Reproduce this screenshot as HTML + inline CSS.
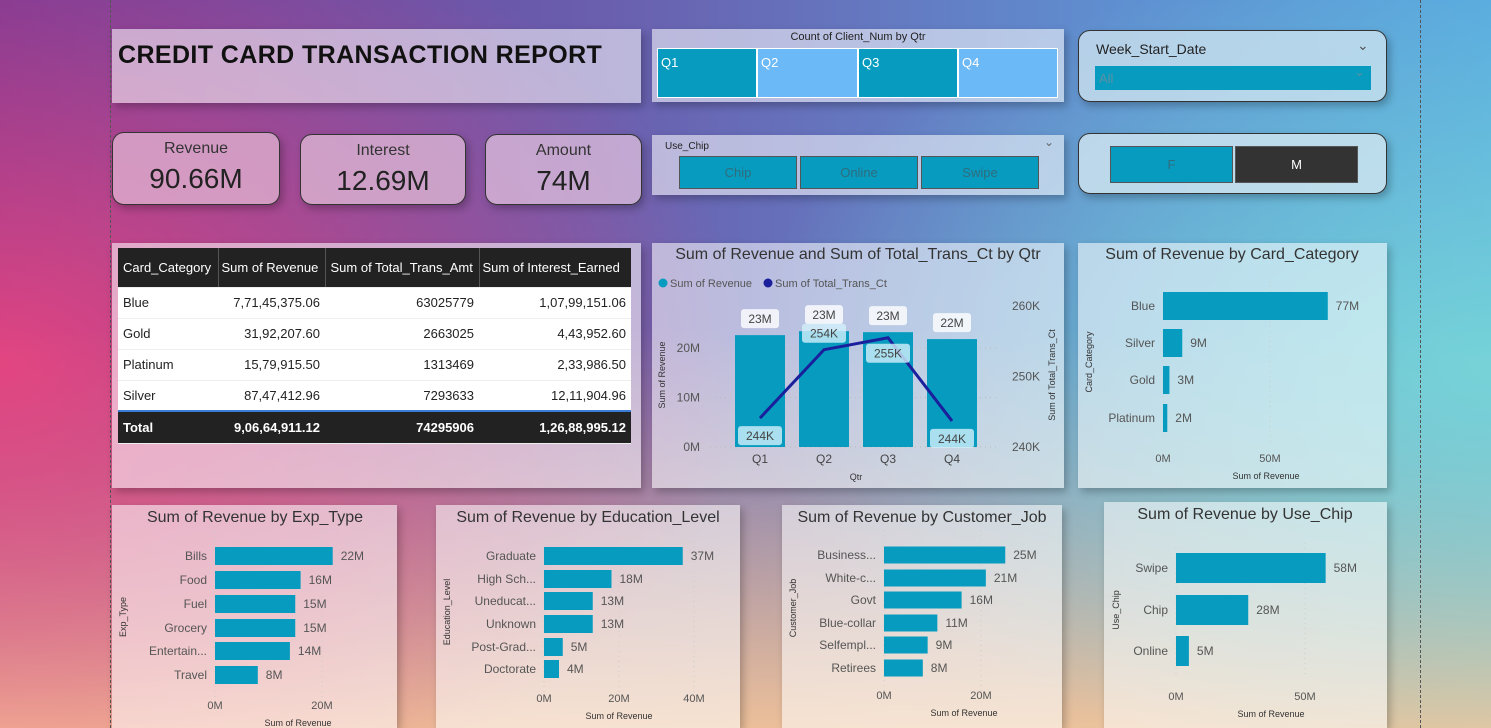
<!DOCTYPE html>
<html><head><meta charset="utf-8">
<style>
*{box-sizing:border-box;margin:0;padding:0}
body{width:1491px;height:728px;overflow:hidden;position:relative;font-family:"Liberation Sans",sans-serif;color:#222;
background:
radial-gradient(ellipse 1000px 650px at 0% 50%, rgba(245,70,125,0.85), rgba(245,70,125,0) 75%),
radial-gradient(ellipse 1000px 550px at 100% 50%, rgba(120,215,215,0.9), rgba(120,215,215,0) 75%),
linear-gradient(to bottom, rgba(0,0,0,0) 45%, rgba(250,200,150,0.9) 100%),
linear-gradient(to right, #6d3a98 0%, #6a5eae 40%, #5f8fd0 75%, #58a8e0 100%);}
.p{position:absolute}
.panel{position:absolute;background:rgba(255,255,255,0.55);box-shadow:3px 4px 8px rgba(0,0,0,0.25)}
.rnd{border:1.5px solid #333;border-radius:12px}
.vline{position:absolute;top:0;height:728px;border-left:1px dashed #555}
.btn{position:absolute;background:#079cbf;border:1px solid #555;display:flex;align-items:center;justify-content:center;font-size:13px;color:#2f6c7e}
.kl{position:absolute;width:100%;text-align:center;font-size:16px;color:#333}
.kv{position:absolute;width:100%;text-align:center;font-size:28px;color:#222}
table{border-collapse:collapse;font-size:13px;table-layout:fixed}
td{padding:0 5px;height:31px;border-bottom:1px solid #eee;white-space:nowrap;overflow:hidden}
svg text{font-family:"Liberation Sans",sans-serif}
</style></head><body>
<div class="vline" style="left:110px"></div>
<div class="vline" style="left:1420px"></div>

<div class="panel" style="left:112px;top:29px;width:529px;height:74px">
<div class="p" style="left:6px;top:12px;font-size:25px;font-weight:bold;color:#111;letter-spacing:0.4px">CREDIT CARD TRANSACTION REPORT</div></div>

<div class="panel" style="left:652px;top:29px;width:412px;height:73px">
<div class="p" style="left:0;top:2px;width:100%;text-align:center;font-size:11px">Count of Client_Num by Qtr</div>
<div class="p" style="left:5px;top:19px;width:401px;height:50px;background:#fff"></div>
<div class="btn" style="left:6px;top:20px;width:98px;height:48px;background:#079cbf;border:none;justify-content:flex-start;padding-left:3px;color:#fff;align-items:flex-start;padding-top:6px">Q1</div>
<div class="btn" style="left:106px;top:20px;width:99px;height:48px;background:#6cb9f7;border:none;justify-content:flex-start;padding-left:3px;color:#fff;align-items:flex-start;padding-top:6px">Q2</div>
<div class="btn" style="left:207px;top:20px;width:98px;height:48px;background:#079cbf;border:none;justify-content:flex-start;padding-left:3px;color:#fff;align-items:flex-start;padding-top:6px">Q3</div>
<div class="btn" style="left:307px;top:20px;width:98px;height:48px;background:#6cb9f7;border:none;justify-content:flex-start;padding-left:3px;color:#fff;align-items:flex-start;padding-top:6px">Q4</div>
</div>

<div class="panel rnd" style="left:1078px;top:30px;width:309px;height:72px;background:rgba(210,230,240,0.75)">
<div class="p" style="left:17px;top:10px;font-size:14px">Week_Start_Date</div>
<div class="p" style="left:278px;top:6px;font-size:14px;color:#555">&#8964;</div>
<div class="p" style="left:16px;top:35px;width:276px;height:24px;background:#079cbf;color:#5a8fa3;font-size:13px;padding:5px 4px">All<span style="position:absolute;right:6px;top:-2px">&#8964;</span></div>
</div>

<div class="panel rnd" style="left:112px;top:132px;width:168px;height:73px;background:rgba(230,190,215,0.7)">
<div class="kl" style="top:7px">Revenue</div><div class="kv" style="top:30px">90.66M</div></div>
<div class="panel rnd" style="left:300px;top:134px;width:166px;height:71px;background:rgba(230,195,220,0.7)">
<div class="kl" style="top:7px">Interest</div><div class="kv" style="top:30px">12.69M</div></div>
<div class="panel rnd" style="left:485px;top:134px;width:157px;height:71px;background:rgba(230,200,225,0.7)">
<div class="kl" style="top:7px">Amount</div><div class="kv" style="top:30px">74M</div></div>

<div class="panel" style="left:652px;top:135px;width:412px;height:60px">
<div class="p" style="left:13px;top:6px;font-size:10px">Use_Chip</div>
<div class="p" style="left:392px;top:0px;font-size:12px;color:#666">&#8964;</div>
<div class="btn" style="left:27px;top:21px;width:118px;height:33px">Chip</div>
<div class="btn" style="left:148px;top:21px;width:118px;height:33px">Online</div>
<div class="btn" style="left:269px;top:21px;width:118px;height:33px">Swipe</div>
</div>

<div class="panel rnd" style="left:1078px;top:133px;width:309px;height:61px;background:rgba(210,230,240,0.8)">
<div class="btn" style="left:31px;top:12px;width:123px;height:37px">F</div>
<div class="btn" style="left:156px;top:12px;width:123px;height:37px;background:#333;color:#fff">M</div>
</div>

<div class="panel" style="left:112px;top:243px;width:529px;height:245px">
<table class="p" style="left:6px;top:5px;width:513px">
<colgroup><col style="width:100px"><col style="width:107px"><col style="width:154px"><col style="width:152px"></colgroup>
<tr style="background:#222;color:#fff"><td style="height:39px;border-right:1px solid #555">Card_Category</td><td style="border-right:1px solid #555;padding:0 3px">Sum of Revenue</td><td style="border-right:1px solid #555">Sum of Total_Trans_Amt</td><td style="padding:0 3px">Sum of Interest_Earned</td></tr>
<tr style="background:#fff"><td>Blue</td><td align="right">7,71,45,375.06</td><td align="right">63025779</td><td align="right">1,07,99,151.06</td></tr>
<tr style="background:#fff"><td>Gold</td><td align="right">31,92,207.60</td><td align="right">2663025</td><td align="right">4,43,952.60</td></tr>
<tr style="background:#fff"><td>Platinum</td><td align="right">15,79,915.50</td><td align="right">1313469</td><td align="right">2,33,986.50</td></tr>
<tr style="background:#fff"><td>Silver</td><td align="right">87,47,412.96</td><td align="right">7293633</td><td align="right">12,11,904.96</td></tr>
<tr style="background:#222;color:#fff;font-weight:bold"><td style="height:32px;border-top:2px solid #3a7bd5">Total</td><td align="right" style="border-top:2px solid #3a7bd5">9,06,64,911.12</td><td align="right" style="border-top:2px solid #3a7bd5">74295906</td><td align="right" style="border-top:2px solid #3a7bd5">1,26,88,995.12</td></tr>
</table></div>

<div class="panel" style="left:652px;top:243px;width:412px;height:245px"></div>
<div class="panel" style="left:1078px;top:243px;width:309px;height:245px"></div>
<div class="panel" style="left:112px;top:505px;width:285px;height:223px"></div>
<div class="panel" style="left:436px;top:505px;width:304px;height:223px"></div>
<div class="panel" style="left:782px;top:505px;width:280px;height:223px"></div>
<div class="panel" style="left:1104px;top:502px;width:283px;height:226px"></div>

<svg id="charts" class="p" style="left:0;top:0" width="1491" height="728"></svg>

<script>
// Combo chart data
const qtrs = ["Q1","Q2","Q3","Q4"];
const qtrRevenue = [22.6, 23.4, 23.2, 21.8];
const qtrRevenueLabels = ["23M","23M","23M","22M"];
const qtrTrans = [244.1, 253.8, 255.5, 243.7];
const qtrTransLabels = ["244K","254K","255K","244K"];
const revTicks = [0,10,20];
const transTicks = [240,250,260];
// Card category
const cardCats = ["Blue","Silver","Gold","Platinum"];
const cardVals = [77,9,3,2];
// Exp type
const expCats = ["Bills","Food","Fuel","Grocery","Entertain...","Travel"];
const expVals = [22,16,15,15,14,8];
// Education
const eduCats = ["Graduate","High Sch...","Uneducat...","Unknown","Post-Grad...","Doctorate"];
const eduVals = [37,18,13,13,5,4];
// Job
const jobCats = ["Business...","White-c...","Govt","Blue-collar","Selfempl...","Retirees"];
const jobVals = [25,21,16,11,9,8];
// Use chip
const chipCats = ["Swipe","Chip","Online"];
const chipVals = [58,28,5];

const svg = document.getElementById('charts');
const NS = "http://www.w3.org/2000/svg";
function mk(tag, attrs, txt){
  const e = document.createElementNS(NS, tag);
  for (const k in attrs) e.setAttribute(k, attrs[k]);
  if (txt !== undefined) e.textContent = txt;
  svg.appendChild(e);
  return e;
}
const TEAL = "#079cbf";

(function(){
  const yR = v => 447 - v * 4.95;
  const yT = v => 447 - (v - 240) * 7.05;
  const xC = i => 760 + i * 64;
  const t = mk('text',{x:858,y:259,'text-anchor':'middle','font-size':16,fill:'#333'},'Sum of Revenue and Sum of Total_Trans_Ct by Qtr');
   
  let c = mk('circle',{cx:663,cy:283,r:4.5,fill:TEAL});
   
  let l = mk('text',{x:670,y:287,'font-size':11,fill:'#555'},'Sum of Revenue');
   
  c = mk('circle',{cx:768,cy:283,r:4.5,fill:'#1a1f9c'});
   
  l = mk('text',{x:775,y:287,'font-size':11,fill:'#555'},'Sum of Total_Trans_Ct');
   
  revTicks.forEach(v=>{
    const g = mk('line',{x1:710,x2:1000,y1:yR(v),y2:yR(v),stroke:'#bbb','stroke-dasharray':'1,4'});
     
    const tt = mk('text',{x:700,y:yR(v)+4,'text-anchor':'end','font-size':12,fill:'#555'},v+'M');
     
  });
  transTicks.forEach(v=>{
    const tt = mk('text',{x:1012,y:yT(v)+4,'font-size':12,fill:'#555'},v+'K');
     
  });
  let a = mk('text',{x:0,y:0,'font-size':9,fill:'#333','text-anchor':'middle',transform:'translate(665,375) rotate(-90)'},'Sum of Revenue');
   
  a = mk('text',{x:0,y:0,'font-size':9,fill:'#333','text-anchor':'middle',transform:'translate(1055,375) rotate(-90)'},'Sum of Total_Trans_Ct');
   
  a = mk('text',{x:856,y:480,'font-size':9,fill:'#333','text-anchor':'middle'},'Qtr');
   
  qtrs.forEach((q,i)=>{
    const b = mk('rect',{x:xC(i)-25,y:yR(qtrRevenue[i]),width:50,height:yR(0)-yR(qtrRevenue[i]),fill:TEAL});
     
    const xt = mk('text',{x:xC(i),y:463,'text-anchor':'middle','font-size':12,fill:'#444'},q);
     
  });
  const pts = qtrs.map((q,i)=>xC(i)+','+yT(qtrTrans[i])).join(' ');
  const pl = mk('polyline',{points:pts,fill:'none',stroke:'#1a1f9c','stroke-width':3});
   
  qtrs.forEach((q,i)=>{
    const ly = yR(qtrRevenue[i]) - 16;
    const r = mk('rect',{x:xC(i)-19,y:ly-10,width:38,height:19,rx:3,fill:'rgba(255,255,255,0.8)'});
     
    const t2 = mk('text',{x:xC(i),y:ly+4,'text-anchor':'middle','font-size':12,fill:'#444'},qtrRevenueLabels[i]);
     
    const ty = i===0||i===3 ? yT(qtrTrans[i]) + 18 : (i===1 ? yT(qtrTrans[i]) - 16 : yT(qtrTrans[i]) + 16);
    const r2 = mk('rect',{x:xC(i)-22,y:ty-10,width:44,height:19,rx:3,fill:'rgba(210,240,250,0.8)'});
     
    const t3 = mk('text',{x:xC(i),y:ty+4,'text-anchor':'middle','font-size':12,fill:'#444'},qtrTransLabels[i]);
     
  });
})();

function hbar(o){
  const t = mk('text',{x:o.cx,y:o.ty,'text-anchor':'middle','font-size':16,fill:'#333'},o.title);
   
  const x = v => o.x0 + v * o.k;
  o.ticks.forEach(v=>{
    const g = mk('line',{x1:x(v),x2:x(v),y1:o.rows[0]-25,y2:o.rows[o.rows.length-1]+25,stroke:'#ccc','stroke-dasharray':'1,4'});
     
    const tt = mk('text',{x:x(v),y:o.tickY,'text-anchor':'middle','font-size':11,fill:'#555'},v+'M');
     
  });
  const xa = mk('text',{x:o.xtx,y:o.tickY+17,'text-anchor':'middle','font-size':9,fill:'#333'},'Sum of Revenue');
   
  const ya = mk('text',{x:0,y:0,'text-anchor':'middle','font-size':9,fill:'#333',transform:'translate('+o.yax+','+o.yay+') rotate(-90)'},o.ytitle);
   
  o.cats.forEach((c,i)=>{
    const cy = o.rows[i];
    const b = mk('rect',{x:o.x0,y:cy-o.h/2,width:Math.max(o.vals[i]*o.k,2),height:o.h,fill:TEAL});
     
    const lb = mk('text',{x:o.x0-8,y:cy+4,'text-anchor':'end','font-size':12,fill:'#555'},c);
     
    const vl = mk('text',{x:x(o.vals[i])+8,y:cy+4,'font-size':12,fill:'#555'},o.vals[i]+'M');
     
  });
}
hbar({id:'card-category',title:'Sum of Revenue by Card_Category',cx:1232,ty:259,x0:1163,k:2.14,ticks:[0,50],tickY:462,xtx:1266,
  rows:[306,343,380,418],h:28,cats:cardCats,vals:cardVals,ytitle:'Card_Category',yax:1092,yay:362});
hbar({id:'exp-type',title:'Sum of Revenue by Exp_Type',cx:255,ty:522,x0:215,k:5.35,ticks:[0,20],tickY:709,xtx:298,
  rows:[556,580,604,628,651,675],h:18,cats:expCats,vals:expVals,ytitle:'Exp_Type',yax:126,yay:617});
hbar({id:'education',title:'Sum of Revenue by Education_Level',cx:588,ty:522,x0:544,k:3.75,ticks:[0,20,40],tickY:702,xtx:619,
  rows:[556,579,601,624,647,669],h:18,cats:eduCats,vals:eduVals,ytitle:'Education_Level',yax:450,yay:612});
hbar({id:'customer-job',title:'Sum of Revenue by Customer_Job',cx:922,ty:522,x0:884,k:4.85,ticks:[0,20],tickY:699,xtx:964,
  rows:[555,578,600,623,645,668],h:17,cats:jobCats,vals:jobVals,ytitle:'Customer_Job',yax:796,yay:608});
hbar({id:'use-chip',title:'Sum of Revenue by Use_Chip',cx:1245,ty:519,x0:1176,k:2.58,ticks:[0,50],tickY:700,xtx:1271,
  rows:[568,610,651],h:30,cats:chipCats,vals:chipVals,ytitle:'Use_Chip',yax:1119,yay:610});
</script>
</body></html>
